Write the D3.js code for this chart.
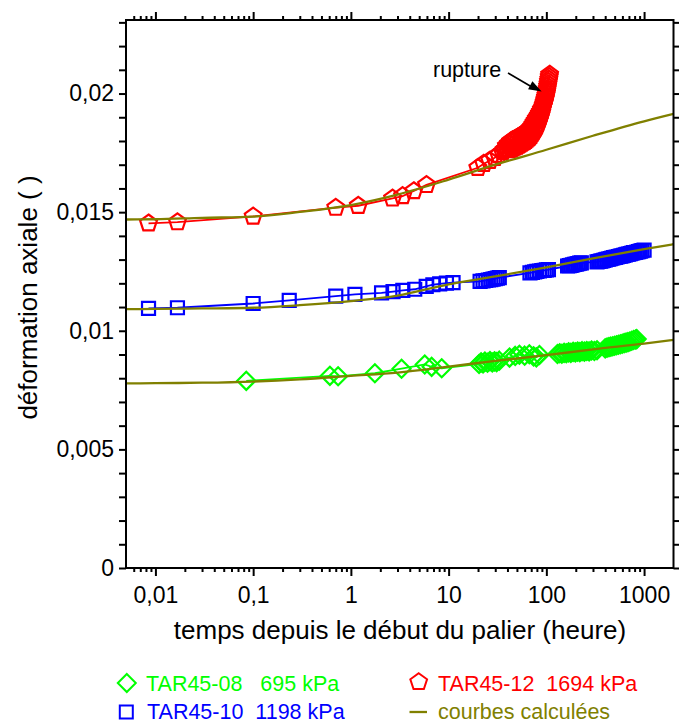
<!DOCTYPE html>
<html><head><meta charset="utf-8">
<script src="https://cdn.jsdelivr.net/npm/d3@7"></script>
<style>
body{margin:0;background:#fff}
text{font-family:"Liberation Sans",Arial,sans-serif}
</style>
</head><body>
<svg id="c" width="679" height="724"></svg>
<script>
// ---------- data ----------
const xTickValues = [0.01, 0.1, 1, 10, 100, 1000];
const xTickLabels = ["0,01", "0,1", "1", "10", "100", "1000"];
const yTickValues = [0, 0.005, 0.01, 0.015, 0.02];
const yTickLabels = ["0", "0,005", "0,01", "0,015", "0,02"];
const xLabel = "temps depuis le début du palier (heure)";
const yLabel = "déformation axiale ( )";
const seriesNames = ["TAR45-08   695 kPa", "TAR45-10  1198 kPa", "TAR45-12  1694 kPa"];
const calcName = "courbes calculées";
const ruptureLabel = "rupture";

// TAR45-08 (695 kPa) : [time h, strain]
const tar08 = [
  [0.085,0.00789],[0.61,0.00810],[0.74,0.00808],[1.76,0.00821],[3.3,0.00840],[5.7,0.00858],[6.7,0.00848],[8.5,0.00842],
  [20.5,0.00860],[21.5,0.00867],[22.5,0.00862],[23.5,0.00870],[25,0.00865],[26.5,0.00872],[28,0.00866],[29.5,0.00871],[31,0.00868],[33,0.00874],
  [42,0.00887],[48,0.00894],[53,0.00899],[60,0.00895],[67,0.00901],[74,0.00892],[79,0.00888],[85,0.00898],
  [130,0.00902],[137,0.00905],[144,0.00903],[152,0.00907],[160,0.00905],[169,0.00909],[178,0.00907],[188,0.00911],[198,0.00909],[209,0.00912],[220,0.00910],[232,0.00914],[245,0.00912],[259,0.00915],[274,0.00913],[290,0.00917],[310,0.00915],[330,0.00918],
  [400,0.00926],[418,0.00929],[437,0.00931],[457,0.00933],[478,0.00935],[500,0.00937],[523,0.00939],[547,0.00941],[572,0.00943],[598,0.00945],[625,0.00948],[654,0.00950],[684,0.00952],[715,0.00955],[748,0.00958],[782,0.00961],[818,0.00963],[840,0.00965]
];
// TAR45-10 (1198 kPa)
const tar10 = [
  [0.0085,0.01094],[0.0168,0.01097],[0.1,0.01115],[0.234,0.01128],[0.70,0.01146],[1.1,0.01153],[2.06,0.01160],[2.7,0.01165],[3.4,0.01170],[4.5,0.01175],[5.9,0.01187],[6.9,0.01194],[8.1,0.01198],[9.5,0.01201],[11.1,0.01203],
  [21,0.01208],[22.5,0.01210],[24,0.01212],[25.5,0.01214],[27,0.01216],[28.5,0.01218],[30,0.01220],[31.5,0.01222],[33,0.01224],
  [68,0.01244],[72,0.01246],[76,0.01248],[80,0.01250],[85,0.01252],[90,0.01254],[95,0.01255],[100,0.01257],[105,0.01258],
  [165,0.01273],[172,0.01275],[179,0.01276],[186,0.01278],[194,0.01280],[202,0.01281],[210,0.01283],[219,0.01285],[228,0.01286],
  [330,0.01290],[343,0.01292],[357,0.01294],[371,0.01295],[386,0.01297],[401,0.01299],[417,0.01301],[434,0.01302],[451,0.01304],[469,0.01306],[488,0.01308],[508,0.01309],[528,0.01311],[549,0.01313],[571,0.01315],[594,0.01316],[618,0.01318],[643,0.01320],[668,0.01322],[695,0.01323],[723,0.01325],[752,0.01327],[782,0.01329],[813,0.01330],[845,0.01332],[879,0.01334],[914,0.01336],[951,0.01338],[1000,0.01340]
];
// TAR45-12 (1694 kPa)
const tar12 = [
  [0.0085,0.01453],[0.0168,0.01458],[0.1,0.01482],[0.70,0.01519],[1.19,0.01527],[2.67,0.01558],[3.38,0.01568],[4.4,0.01589],[5.94,0.01615],
  [19.9,0.01687],[22.9,0.01704],[26.3,0.01717],[29.6,0.01729],[32.5,0.01742],[35.7,0.01754],
  [37,0.01763],[38,0.01766],[39,0.01779],[40,0.01762],[41,0.01789],[42,0.01763],[43,0.01798],[44,0.01764],[45,0.01803],[46,0.01769],[47,0.01807],[48,0.01773],[49,0.01811],[50,0.01777],
  [51,0.01815],[52,0.01781],[53,0.01819],[54,0.01785],[55,0.01823],[56,0.01789],[57,0.01827],[58,0.01793],[59,0.01831],[60,0.01797],
  [61,0.01835],[62,0.01801],[63,0.01839],[64,0.01806],[65,0.01844],[66,0.01811],[67,0.01849],[68,0.01816],[69,0.01855],[70,0.01822],
  [71,0.01862],[72,0.01830],[73,0.01870],[74,0.01838],[75,0.01878],[76,0.01846],[77,0.01886],[78,0.01854],[79,0.01894],[80,0.01862],
  [81,0.01900],[82,0.01873],[83,0.01908],[84,0.01885],[85,0.01916],[86,0.01897],[87,0.01924],[88,0.01909],[89,0.01933],[90,0.01923],
  [91,0.01937],[92,0.01943],[93,0.01949],[94,0.01955],[95,0.01962],[96,0.01969],[97,0.01976],[98,0.01984],[99,0.01992],[100,0.02001],
  [101,0.02010],[102,0.02020],[103,0.02030],[104,0.02040],[105,0.02050],[106,0.02060],[107,0.02070],[108,0.02080]
];
// calculated curves
const calcTimes = [0.005, 0.01, 0.03, 0.1, 0.3, 1, 3, 10, 30, 100, 300, 1000, 2000];
const calc08 = [0.00778, 0.00779, 0.00781, 0.00786, 0.00795, 0.00810, 0.00824, 0.00849, 0.00873, 0.00897, 0.00922, 0.00946, 0.00962];
const calc10 = [0.01091, 0.01092, 0.01094, 0.01097, 0.01108, 0.01125, 0.01148, 0.01196, 0.01229, 0.01267, 0.01305, 0.01344, 0.01365];
const calc12 = [0.01469, 0.01470, 0.01476, 0.01481, 0.01501, 0.01530, 0.01574, 0.01637, 0.01700, 0.01763, 0.01822, 0.01883, 0.01914];

// ---------- chart ----------
const GREEN = "#00ff00", BLUE = "#0000ff", RED = "#ff0000", OLIVE = "#808000";
const L = 126, R = 673.5, T = 20, B = 568;
const svg = d3.select("#c");
svg.append("rect").attr("width", 679).attr("height", 724).attr("fill", "#fff");

const x = d3.scaleLog().domain([0.005, 2000]).range([L, R]);
const y = d3.scaleLinear().domain([0, 0.0231]).range([B, T]);

const diamond = {draw(ctx, size){const r = Math.sqrt(size); ctx.moveTo(0,-r); ctx.lineTo(r,0); ctx.lineTo(0,r); ctx.lineTo(-r,0); ctx.closePath();}};
const pentagon = {draw(ctx, size){const r = Math.sqrt(size); for(let i=0;i<5;i++){const a=-Math.PI/2+i*2*Math.PI/5; const px=r*Math.cos(a), py=r*Math.sin(a); if(i===0) ctx.moveTo(px,py); else ctx.lineTo(px,py);} ctx.closePath();}};

const series = [
  {data: tar08, color: GREEN, sym: d3.symbol().type(diamond).size(9*9)},
  {data: tar10, color: BLUE, sym: d3.symbol().type(d3.symbolSquare).size(13*13)},
  {data: tar12, color: RED, sym: d3.symbol().type(pentagon).size(8.8*8.8)}
];

// minor ticks
const xMinor = [];
for (let e = -3; e <= 3; e++) for (let m = 2; m <= 9; m++) { const v = m * Math.pow(10, e); if (v > 0.005 && v < 2000) xMinor.push(v); }
const yMinor = d3.range(0, 24).map(i => i * 0.001).filter(v => v <= 0.0231 && !yTickValues.some(t => Math.abs(t - v) < 1e-9));

function styleAxis(g){ g.select(".domain").remove(); g.selectAll("line").attr("stroke","#000").attr("stroke-width",2); g.selectAll("text").attr("font-size",23).attr("fill","#000").attr("font-family",'"Liberation Sans",Arial,sans-serif'); }

svg.append("g").attr("transform",`translate(0,${B})`).call(d3.axisBottom(x).tickValues(xTickValues).tickFormat((d,i)=>xTickLabels[i]).tickSizeInner(8).tickSizeOuter(0).tickPadding(11)).call(styleAxis);
svg.append("g").attr("transform",`translate(0,${B})`).call(d3.axisBottom(x).tickValues(xMinor).tickFormat("").tickSizeInner(4).tickSizeOuter(0)).call(styleAxis);
svg.append("g").attr("transform",`translate(0,${T})`).call(d3.axisTop(x).tickValues(xTickValues).tickFormat("").tickSizeInner(8).tickSizeOuter(0)).call(styleAxis);
svg.append("g").attr("transform",`translate(0,${T})`).call(d3.axisTop(x).tickValues(xMinor).tickFormat("").tickSizeInner(4).tickSizeOuter(0)).call(styleAxis);
svg.append("g").attr("transform",`translate(${L},0)`).call(d3.axisLeft(y).tickValues(yTickValues).tickFormat((d,i)=>yTickLabels[i]).tickSizeInner(7).tickSizeOuter(0).tickPadding(5)).call(styleAxis);
svg.append("g").attr("transform",`translate(${L},0)`).call(d3.axisLeft(y).tickValues(yMinor).tickFormat("").tickSizeInner(7).tickSizeOuter(0)).call(styleAxis);
svg.append("g").attr("transform",`translate(${R},0)`).call(d3.axisRight(y).tickValues(yTickValues.concat(yMinor)).tickFormat("").tickSizeInner(7).tickSizeOuter(0)).call(styleAxis);

// data lines & markers
const line = d3.line().x(d => x(d[0])).y(d => y(d[1]));
const plot = svg.append("g");
series.forEach(s => {
  plot.append("path").attr("d", line(s.data)).attr("fill","none").attr("stroke", s.color).attr("stroke-width", 1.8);
  plot.selectAll(null).data(s.data).join("path")
    .attr("transform", d => `translate(${x(d[0])},${y(d[1])})`)
    .attr("d", s.sym()).attr("fill","none").attr("stroke", s.color).attr("stroke-width", 2.2);
});

// calculated curves
const cline = d3.line().x(d => x(d[0])).y(d => y(d[1])).curve(d3.curveMonotoneX);
[calc08, calc10, calc12].forEach(vals => {
  plot.append("path").attr("d", cline(calcTimes.map((t,i)=>[t, vals[i]]))).attr("fill","none").attr("stroke", OLIVE).attr("stroke-width", 2.3);
});

// frame
svg.append("rect").attr("x", L).attr("y", T).attr("width", R - L).attr("height", B - T).attr("fill","none").attr("stroke","#000").attr("stroke-width",2);

// rupture annotation
const last = tar12[tar12.length - 1];
svg.append("text").attr("x", 433).attr("y", 77).attr("font-size", 21.5).text(ruptureLabel);
const ax1 = 508, ay1 = 73, ax2 = x(last[0]) - 8, ay2 = y(last[1]) + 17;
svg.append("line").attr("x1", ax1).attr("y1", ay1).attr("x2", ax2 - 8).attr("y2", ay2 - 3.5).attr("stroke","#000").attr("stroke-width",1.6);
{
  const ang = Math.atan2(ay2 - ay1, ax2 - ax1), len = 13, w = 4.5;
  const bx = ax2 - len*Math.cos(ang), by = ay2 - len*Math.sin(ang);
  const pts = [[ax2,ay2],[bx + w*Math.sin(ang), by - w*Math.cos(ang)],[bx - w*Math.sin(ang), by + w*Math.cos(ang)]];
  svg.append("path").attr("d", "M" + pts.map(p=>p.join(",")).join("L") + "Z").attr("fill","#000");
}

// axis titles
svg.append("text").attr("x", 400).attr("y", 639).attr("text-anchor","middle").attr("font-size", 26).text(xLabel);
svg.append("text").attr("transform","translate(37,297.5) rotate(-90)").attr("text-anchor","middle").attr("font-size", 26).text(yLabel);

// legend
const lg = svg.append("g");
const legendItems = [
  {sym: series[0].sym, color: GREEN, sx: 126.8, sy: 683, tx: 146, ty: 691, label: seriesNames[0]},
  {sym: series[1].sym, color: BLUE, sx: 126.3, sy: 712, tx: 147, ty: 719, label: seriesNames[1]},
  {sym: series[2].sym, color: RED, sx: 418.7, sy: 682, tx: 438, ty: 691, label: seriesNames[2]}
];
legendItems.forEach(it => {
  lg.append("path").attr("transform", `translate(${it.sx},${it.sy})`).attr("d", it.sym()).attr("fill","none").attr("stroke", it.color).attr("stroke-width", 2);
  lg.append("text").attr("x", it.tx).attr("y", it.ty).attr("font-size", 21.5).attr("fill", it.color).style("white-space","pre").text(it.label);
});
lg.append("line").attr("x1", 409.5).attr("x2", 427).attr("y1", 712).attr("y2", 712).attr("stroke", OLIVE).attr("stroke-width", 2.3);
lg.append("text").attr("x", 438).attr("y", 719).attr("font-size", 21.5).attr("fill", OLIVE).text(calcName);
</script>
</body></html>
